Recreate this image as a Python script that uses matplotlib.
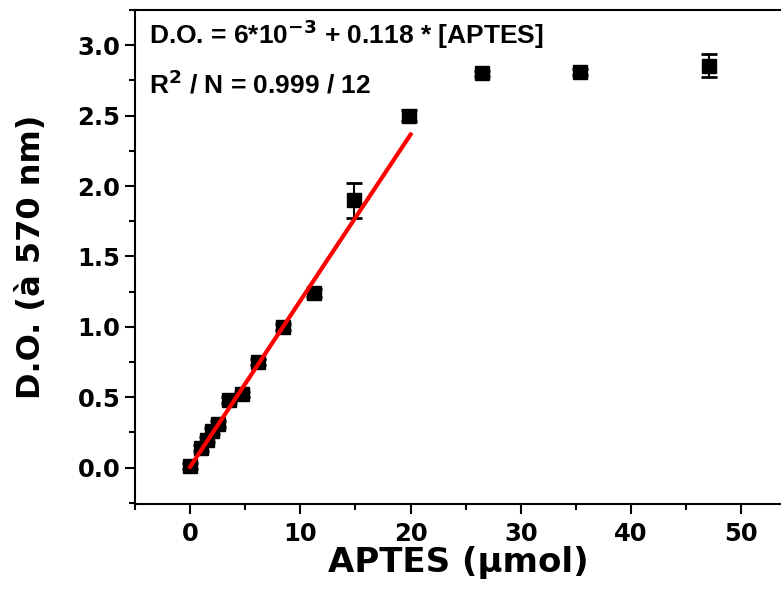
import numpy as np
import matplotlib
matplotlib.use('Agg')
from matplotlib import pyplot as plt
from matplotlib.ticker import MultipleLocator

# APTES (umol) vs D.O. at 570 nm
aptes = [0.0, 1.0, 1.5, 2.0, 2.5, 3.5, 4.7, 6.2, 8.4, 11.2, 14.9, 19.9, 26.5, 35.4, 47.1]
do = [0.01, 0.14, 0.20, 0.26, 0.31, 0.48, 0.52, 0.75, 1.00, 1.24, 1.90, 2.50, 2.80, 2.81, 2.855]
err = [0.02, 0.02, 0.02, 0.02, 0.02, 0.02, 0.02, 0.02, 0.02, 0.03, 0.125, 0.04, 0.02, 0.02, 0.083]

# fit parameters as printed on the chart
intercept = 6e-3
slope = 0.118
fit_x = [0, 20]

fig = plt.figure(figsize=(7.81, 5.91), dpi=100)
ax = fig.add_axes([135/781, 87/591, 646/781, 494/591])

ax.errorbar(aptes, do, yerr=err, fmt='s', color='black', ms=10,
            elinewidth=1.5, capsize=6, capthick=2, zorder=3)
fx = np.array(fit_x)
ax.plot(fx, intercept + slope*fx, color='red', lw=3, zorder=4)

ax.set_xlim(-5, 53.6)
ax.set_ylim(-0.258, 3.25)
ax.xaxis.set_major_locator(MultipleLocator(10))
ax.xaxis.set_minor_locator(MultipleLocator(5))
ax.yaxis.set_major_locator(MultipleLocator(0.5))
ax.yaxis.set_minor_locator(MultipleLocator(0.25))

for s in ['left', 'bottom', 'top']:
    ax.spines[s].set_linewidth(1.5)
ax.spines['right'].set_visible(False)

ax.tick_params(which='major', direction='out', length=7, width=1.5, top=False, right=False)
ax.tick_params(which='minor', direction='out', length=4, width=1.5, top=False, right=False)
ax.tick_params(axis='x', which='major', pad=6)

for lab in ax.get_yticklabels() + ax.get_xticklabels():
    lab.set_family('DejaVu Sans')
    lab.set_fontweight('bold')
    lab.set_fontsize(17.5)

ax.set_ylabel(u'D.O. (à 570 nm)', family='DejaVu Sans', fontweight='bold', fontsize=23, labelpad=22)
ax.set_xlabel(u'APTES (µmol)', family='DejaVu Sans', fontweight='bold', fontsize=24.5, labelpad=0)

fig.text(149/781, 1 - 44/591, r'D.O. = 6*10$^{\mathbf{-3}}$ + 0.118 * [APTES]',
         family='Liberation Sans', fontweight='bold', fontsize=19, va='baseline')
fig.text(149/781, 1 - 94/591, r'R$^{\mathbf{2}}$ / N = 0.999 / 12',
         family='Liberation Sans', fontweight='bold', fontsize=19, va='baseline')

fig.savefig('out.png', dpi=100)
